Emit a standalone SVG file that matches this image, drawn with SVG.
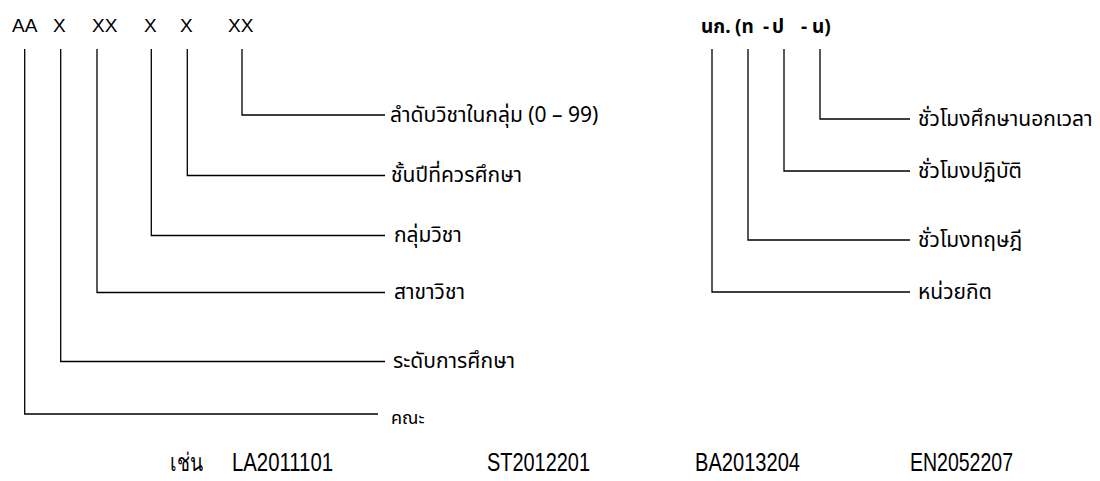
<svg xmlns="http://www.w3.org/2000/svg" width="1100" height="481" viewBox="0 0 1100 481">
<style>
.code{font-family:"Liberation Sans",Arial,sans-serif;font-size:19px;fill:#000}
.lbl{font-family:"Noto Sans Thai","Leelawadee UI",Tahoma,"Noto Sans",sans-serif;font-size:21px;fill:#000}
.small{font-size:18px}
.hdr{font-family:"Noto Sans Thai","Leelawadee UI",Tahoma,"Noto Sans",sans-serif;font-size:19px;font-weight:bold;fill:#000}
.ex{font-family:"Liberation Sans Narrow","Liberation Sans",Arial,sans-serif;font-size:25px;fill:#000}
.ln{fill:none;stroke:#000;stroke-width:1.3}
</style>
<rect width="1100" height="481" fill="#fff"/>
<g id="code-format">
<text class="code" x="12" y="32">AA</text>
<text class="code" x="53" y="32">X</text>
<text class="code" x="92" y="32">XX</text>
<text class="code" x="144" y="32">X</text>
<text class="code" x="180" y="32">X</text>
<text class="code" x="228" y="32">XX</text>
</g>
<g id="credit-format">
<text class="hdr" y="33"><tspan x="701">นก.</tspan><tspan x="735">(ท</tspan><tspan x="763">-</tspan><tspan x="772">ป</tspan><tspan x="801">-</tspan><tspan x="812">น)</tspan></text>
</g>
<g id="connectors">
<polyline class="ln" points="242,49 242,115 385,115"/>
<polyline class="ln" points="187.3,49 187.3,175.5 385,175.5"/>
<polyline class="ln" points="151.3,49 151.3,235.5 385,235.5"/>
<polyline class="ln" points="97,49 97,292.5 385,292.5"/>
<polyline class="ln" points="60.7,49 60.7,361.5 385,361.5"/>
<polyline class="ln" points="24.7,49 24.7,414 378,414"/>
<polyline class="ln" points="820,49 820,119 910,119"/>
<polyline class="ln" points="784,49 784,171 910,171"/>
<polyline class="ln" points="748,49 748,240 910,240"/>
<polyline class="ln" points="712,49 712,292 910,292"/>
</g>
<g id="label-order"><text class="lbl" x="390" y="122">ลำดับวิชาในกลุ่ม (0 – 99)</text></g>
<g id="label-year"><text class="lbl" x="391" y="182">ชั้นปีที่ควรศึกษา</text></g>
<g id="label-group"><text class="lbl" x="394" y="242">กลุ่มวิชา</text></g>
<g id="label-branch"><text class="lbl" x="394" y="299">สาขาวิชา</text></g>
<g id="label-level"><text class="lbl" x="393" y="368">ระดับการศึกษา</text></g>
<g id="label-faculty"><text class="lbl small" x="391" y="424">คณะ</text></g>
<g id="label-extra"><text class="lbl" x="918" y="126">ชั่วโมงศึกษานอกเวลา</text></g>
<g id="label-practice"><text class="lbl" x="918" y="178">ชั่วโมงปฏิบัติ</text></g>
<g id="label-theory"><text class="lbl" x="918" y="247">ชั่วโมงทฤษฎี</text></g>
<g id="label-credit"><text class="lbl" x="918" y="299">หน่วยกิต</text></g>
<g id="examples">
<text class="ex" x="170" y="471" textLength="33" lengthAdjust="spacingAndGlyphs">เช่น</text>
<text class="ex" x="232" y="471" textLength="101" lengthAdjust="spacingAndGlyphs">LA2011101</text>
<text class="ex" x="487" y="471" textLength="103" lengthAdjust="spacingAndGlyphs">ST2012201</text>
<text class="ex" x="695" y="471" textLength="105" lengthAdjust="spacingAndGlyphs">BA2013204</text>
<text class="ex" x="910" y="471" textLength="103" lengthAdjust="spacingAndGlyphs">EN2052207</text>
</g>
</svg>
